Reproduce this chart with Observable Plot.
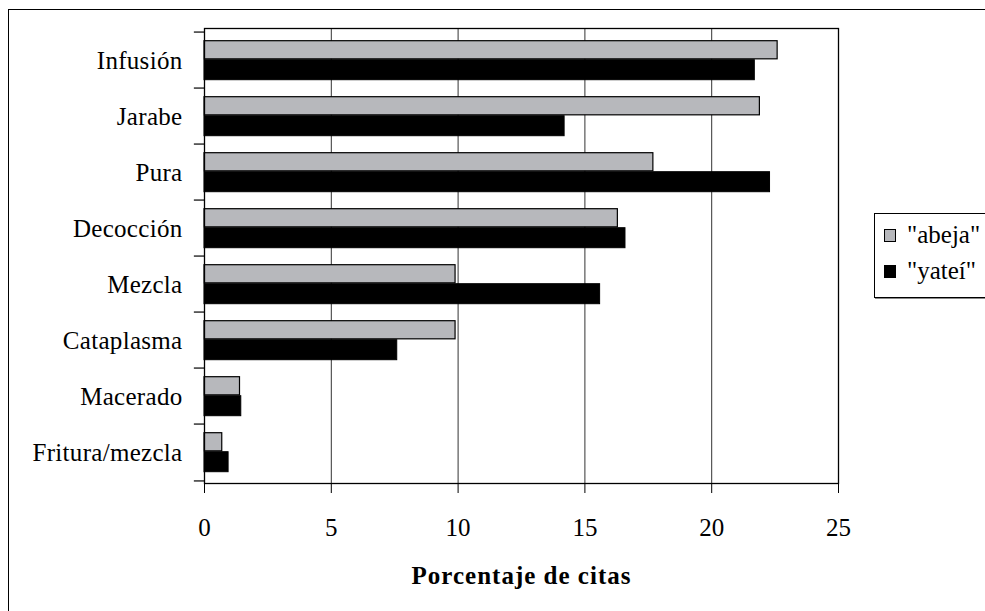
<!DOCTYPE html>
<html>
<head>
<meta charset="utf-8">
<script src="https://cdn.jsdelivr.net/npm/d3@7"></script>
<script src="https://cdn.jsdelivr.net/npm/@observablehq/plot@0.6"></script>
<style>
  html, body { margin: 0; padding: 0; background: #fff; }
  #wrap { position: relative; width: 985px; height: 611px; overflow: hidden; font-family: "Liberation Serif", Tinos, "Times New Roman", Times, "DejaVu Serif", serif; }
  #outer { position: absolute; left: 8px; top: 9px; width: 1200px; height: 800px; border-left: 1.5px solid #000; border-top: 1.5px solid #000; }
  #chart { position: absolute; left: 0; top: 0; }
  #chart svg, #chart svg text { font-family: "Liberation Serif", Tinos, "Times New Roman", Times, "DejaVu Serif", serif !important; }
  #chart g[aria-label="y-axis tick label"] text { letter-spacing: 0.3px; }
  #chart g[aria-label="x-axis label"] text { font-weight: bold; letter-spacing: 1px; }
  #legend { position: absolute; left: 874px; top: 213px; width: 140px; height: 83px; border: 1px solid #000; box-shadow: 1px 1px 0 #888; background: #fff; }
  .row { position: absolute; left: 9px; display: flex; align-items: center; font-size: 25px; color: #000; white-space: nowrap; }
  .sw { width: 10px; height: 11px; border: 1px solid #000; margin-right: 11px; }
</style>
</head>
<body>
<div id="wrap">
  <div id="outer"></div>
  <div id="chart"></div>
  <div id="legend"></div>
</div>
<script>
const categories = ["Infusión", "Jarabe", "Pura", "Decocción", "Mezcla", "Cataplasma", "Macerado", "Fritura/mezcla"];
const abeja = [22.6, 21.9, 17.7, 16.3, 9.9, 9.9, 1.4, 0.7];
const yatei = [21.7, 14.2, 22.3, 16.6, 15.6, 7.6, 1.45, 0.95];
const seriesNames = ['"abeja"', '"yateí"'];
const seriesColors = ["#b7b8bc", "#000000"];
const xTicks = [0, 5, 10, 15, 20, 25];
const gridValues = [5, 10, 15, 20];

const rows = categories.map((c, i) => ({cat: c, abeja: abeja[i], yatei: yatei[i]}));

const marginTop = 28, marginBottom = 128, marginLeft = 204, marginRight = 147;
const H = 611;
const bw = (H - marginTop - marginBottom) / categories.length;
const FONT = '"Liberation Serif", Tinos, "Times New Roman", Times, "DejaVu Serif", serif';

const chart = Plot.plot({
  width: 985,
  height: H,
  marginTop, marginBottom, marginLeft, marginRight,
  style: {fontFamily: FONT, fontSize: "25px", color: "#000", background: "transparent"},
  x: {domain: [0, 25]},
  y: {domain: categories, padding: 0},
  marks: [
    Plot.ruleX(gridValues, {stroke: "#333", strokeWidth: 1}),
    Plot.barX(rows, {x: "abeja", y: "cat", fill: seriesColors[0], stroke: "#000", strokeWidth: 1.2, insetTop: 8.7, insetBottom: bw - 8.7 - 19}),
    Plot.barX(rows, {x: "yatei", y: "cat", fill: seriesColors[1], stroke: "#000", strokeWidth: 1, insetTop: 8.7 + 19, insetBottom: 8.3}),
    Plot.ruleY(categories, {y: d => d, x1: -0.4, x2: 0, dy: -bw / 2, stroke: "#000", strokeWidth: 1.2}),
    Plot.ruleY([categories[categories.length - 1]], {y: d => d, x1: -0.4, x2: 0, dy: bw / 2, stroke: "#000", strokeWidth: 1.2}),
    Plot.frame({stroke: "#000", strokeWidth: 1.3}),
    Plot.axisY({tickSize: 0, tickPadding: 22, fontSize: 25, fontFamily: FONT, label: null}),
    Plot.axisX({ticks: xTicks, tickSize: 10, tickPadding: 25, fontSize: 25, fontFamily: FONT, label: "Porcentaje de citas", labelAnchor: "center", labelArrow: "none", labelOffset: 100})
  ]
});
document.getElementById("chart").appendChild(chart);

const legend = document.getElementById("legend");
seriesNames.forEach((name, i) => {
  const r = document.createElement("div");
  r.className = "row";
  r.style.top = (i === 0 ? 7 : 43) + "px";
  const sw = document.createElement("div");
  sw.className = "sw";
  sw.style.background = seriesColors[i];
  const t = document.createElement("span");
  t.textContent = name;
  r.appendChild(sw);
  r.appendChild(t);
  legend.appendChild(r);
});
</script>
</body>
</html>
